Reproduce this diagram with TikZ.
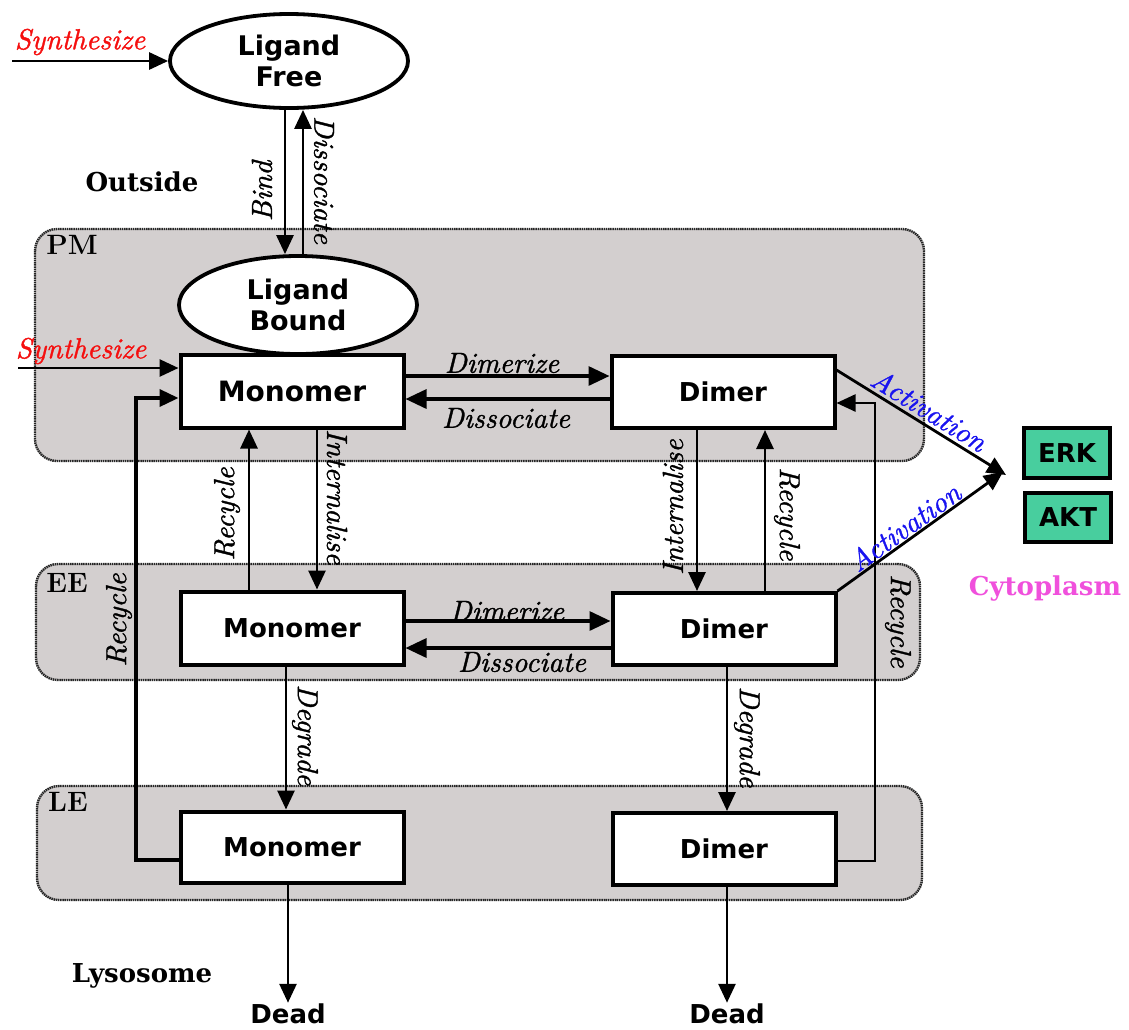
\documentclass[tikz,border=0pt]{standalone}
\usepackage{fontspec}
\usetikzlibrary{arrows.meta,shapes.geometric}
\newfontfamily\dsans{DejaVu Sans}
\newfontfamily\dserif{DejaVu Serif}
\newfontfamily\labit{lmroman10-italic.otf}[FakeBold=1.2]
\definecolor{regiongray}{RGB}{211,207,207}
\definecolor{kinasegreen}{RGB}{72,206,158}
\definecolor{cytomag}{RGB}{240,80,220}
\definecolor{actblue}{RGB}{25,20,240}
\definecolor{synred}{RGB}{245,15,15}
\tikzset{
  region/.style={fill=regiongray, draw=black!85, line width=2.4pt,
    dash pattern=on 1.5pt off 0.7pt, rounded corners=22pt},
  species/.style={draw, line width=4pt, fill=white, minimum width=223pt,
    minimum height=72pt, inner sep=0pt,
    font=\dsans\bfseries\fontsize{26}{30}\selectfont},
  ligand/.style={ellipse, draw, line width=3.8pt, fill=white, inner sep=0pt,
    minimum width=238pt, minimum height=94pt, align=center,
    font=\dsans\bfseries\fontsize{27}{31}\selectfont},
  kinase/.style={draw, line width=4pt, fill=kinasegreen, inner sep=0pt,
    minimum width=86pt, minimum height=50pt,
    font=\dsans\bfseries\fontsize{26}{30}\selectfont},
  arr/.style={-{Triangle[length=19pt,width=17pt]}, line width=2.8pt},
  bigarr/.style={-{Triangle[length=21pt,width=19pt]}, line width=3.2pt},
  lab/.style={font=\labit\fontsize{29}{32}\selectfont, inner sep=1pt},
  comp/.style={font=\dserif\bfseries\fontsize{26}{30}\selectfont},
  tag/.style={font=\bfseries\fontsize{28}{30}\selectfont},
  deadlab/.style={font=\dsans\bfseries\fontsize{26}{30}\selectfont, inner sep=1pt},
}
\begin{document}
\begin{tikzpicture}[x=1pt,y=-1pt]
\useasboundingbox (0,0) rectangle (1129,1029);

% compartments
\path[region] (35,229) rectangle (924,461);
\path[region] (36,564) rectangle (920,680);
\path[region] (37,786) rectangle (922,900);
\node[tag] (pmtag) at (72,245) {PM};
\node[tag] (eetag) at (67,583) {EE};
\node[tag] (letag) at (68,802) {LE};
\node[comp] (outside) at (142,182) {Outside};
\node[comp] (lysosome) at (142,976) {Lysosome};
\node[comp, text=cytomag] (cyto) at (1045,588) {Cytoplasm};

% species
\node[ligand] (lfree) at (289,61) {Ligand\\Free};
\node[ligand, minimum height=98pt] (lbound) at (298,305) {Ligand\\Bound};
\node[species, font=\dsans\bfseries\fontsize{28}{30}\selectfont,
      minimum height=73pt] (pmmono) at (292,391) {Monomer};
\node[species] (pmdim) at (723,392) {Dimer};
\node[species, minimum height=73pt] (eemono) at (292,628) {Monomer};
\node[species] (eedim) at (724,629) {Dimer};
\node[species, minimum height=71pt] (lemono) at (292,847) {Monomer};
\node[species] (ledim) at (724,849) {Dimer};
\node[kinase] (erk) at (1067,453) {ERK};
\node[kinase, minimum height=49pt] (akt) at (1068,517) {AKT};
\node[deadlab] (dead1) at (288,1014) {Dead};
\node[deadlab] (dead2) at (727,1014) {Dead};

% free ends and corners
\coordinate (syn1) at (12,61);
\coordinate (syn2) at (18,368);
\coordinate (lcorner) at (136,600);
\coordinate (rcorner) at (875,600);
\coordinate (act1) at (1006,475);
\coordinate (act2) at (1003,472);

% synthesis
\draw[arr] (syn1) -- (lfree.west);
\node[lab, text=synred] at (80,42) {Synthesize};
\draw[arr] (syn2) -- (syn2 -| pmmono.west);
\node[lab, text=synred] at (81,351) {Synthesize};

% binding
\draw[arr] ([xshift=-4pt]lfree.south) -- ([xshift=-13pt]lbound.north);
\draw[arr] ([xshift=5pt]lbound.north) -- ([xshift=14pt]lfree.south);
\node[lab, rotate=90] at (262,191) {Bind};
\node[lab, rotate=-90] at (324,180) {Dissociate};

% dimerisation at the membrane
\draw[bigarr] ([yshift=15pt]pmmono.east) -- ([yshift=15pt]pmmono.east -| pmdim.west);
\draw[bigarr] ([yshift=-7pt]pmdim.west) -- ([yshift=-7pt]pmdim.west -| pmmono.east);
\node[lab] at (502,363) {Dimerize};
\node[lab] at (506,418) {Dissociate};

% dimerisation in early endosome
\draw[bigarr] ([yshift=7pt]eemono.east) -- ([yshift=7pt]eemono.east -| eedim.west);
\draw[bigarr] ([yshift=-19pt]eedim.west) -- ([yshift=-19pt]eedim.west -| eemono.east);
\node[lab] at (507,611) {Dimerize};
\node[lab] at (522,662) {Dissociate};

% trafficking of monomers
\draw[arr] ([xshift=25pt]pmmono.south) -- ([xshift=25pt]eemono.north);
\draw[arr] ([xshift=-43pt]eemono.north) -- ([xshift=-43pt]pmmono.south);
\node[lab, rotate=-90] at (337,497) {Internalise};
\node[lab, rotate=90] at (227,514) {Recycle};
\draw[arr] ([xshift=-6pt]eemono.south) -- ([xshift=-6pt]lemono.north);
\node[lab, rotate=-90] at (305,735) {Degrade};
\draw[arr] ([xshift=-4pt]lemono.south) -- (dead1.north);

% trafficking of dimers
\draw[arr] ([xshift=-26pt]pmdim.south) -- ([xshift=-26pt]pmdim.south |- eedim.north);
\draw[arr] ([xshift=41pt]eedim.north) -- ([xshift=41pt]eedim.north |- pmdim.south);
\node[lab, rotate=90] at (673,507) {Internalise};
\node[lab, rotate=-90] at (787,514) {Recycle};
\draw[arr] ([xshift=3pt]eedim.south) -- ([xshift=3pt]eedim.south |- ledim.north);
\node[lab, rotate=-90] at (747,737) {Degrade};
\draw[arr] ([xshift=3pt]ledim.south) -- (dead2.north);

% recycling from late endosome
\coordinate (lrA) at ([yshift=-13pt]lemono.west);
\coordinate (lrB) at ([yshift=-7pt]pmmono.west);
\draw[arr, line width=3.6pt] (lrA) -- (lrA -| lcorner) -- (lcorner |- lrB) -- (lrB);
\node[lab, rotate=90] at (119,620) {Recycle};
\coordinate (rrA) at ([yshift=-12pt]ledim.east);
\coordinate (rrB) at ([yshift=-11pt]pmdim.east);
\draw[arr, line width=2.4pt] (rrA) -- (rrA -| rcorner) -- (rcorner |- rrB) -- (rrB);
\node[lab, rotate=-90] at (898,621) {Recycle};

% signalling
\draw[arr] ([yshift=-16pt]pmdim.north east) -- node[lab, text=actblue, sloped, above, inner sep=3pt] {Activation} (act1);
\draw[arr] (eedim.north east) -- node[lab, text=actblue, sloped, above, inner sep=1pt, pos=0.45] {Activation} (act2);
\end{tikzpicture}
\end{document}
